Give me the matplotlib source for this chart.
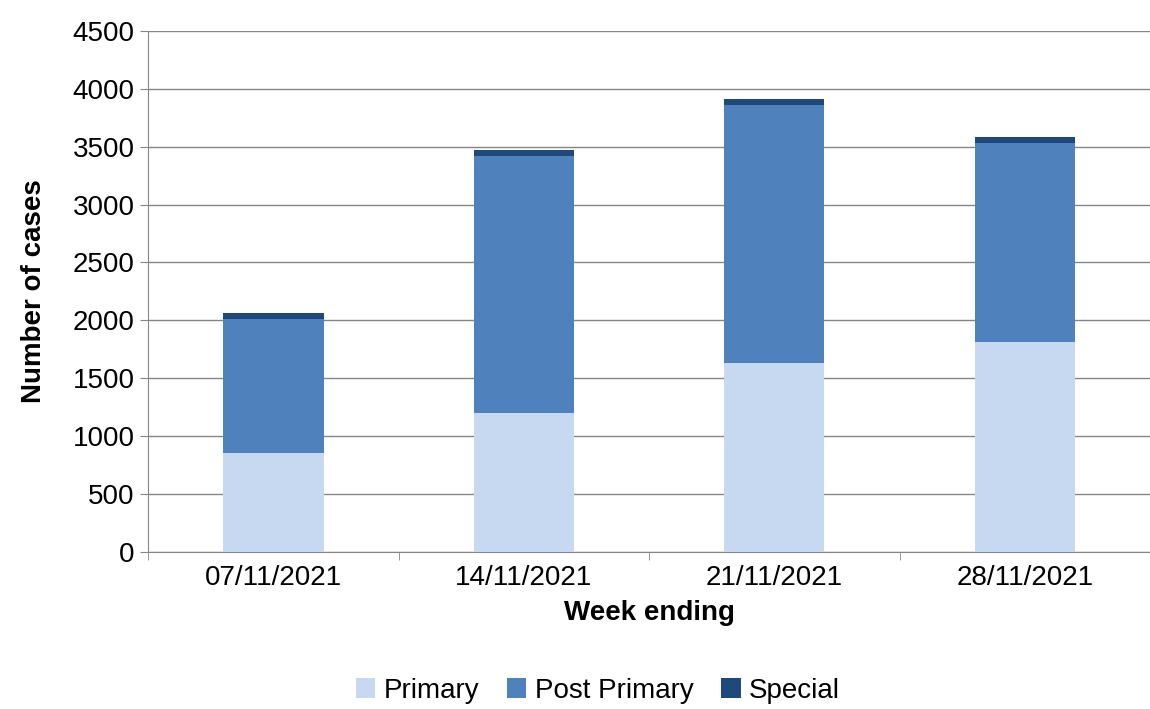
import matplotlib
matplotlib.use('Agg')
import matplotlib.pyplot as plt
import numpy as np

weeks = ['07/11/2021', '14/11/2021', '21/11/2021', '28/11/2021']
primary = [855, 1200, 1635, 1815]
post_primary = [1160, 2220, 2225, 1720]
special = [50, 50, 55, 50]

plt.rcParams['font.family'] = ['Liberation Sans', 'DejaVu Sans']

fig = plt.figure(figsize=(11.5, 7.09), dpi=100)
ax = fig.add_axes([0.129, 0.222, 0.871, 0.734])

x = np.arange(len(weeks))
w = 0.4
p = np.array(primary)
pp = np.array(post_primary)
ax.bar(x, p, w, color='#c6d9f1', label='Primary', zorder=3)
ax.bar(x, pp, w, bottom=p, color='#4f81bd', label='Post Primary', zorder=3)
ax.bar(x, special, w, bottom=p + pp, color='#1f497d', label='Special', zorder=3)

ax.set_xlim(-0.5, len(weeks) - 0.5)
ax.set_ylim(0, 4500)
ax.set_yticks(range(0, 4501, 500))
ax.set_xticks(x)
ax.set_xticklabels(weeks)
ax.grid(axis='y', color='#868686', linewidth=1, zorder=0)
for s in ['top', 'right']:
    ax.spines[s].set_visible(False)
ax.spines['left'].set_color('#868686')
ax.spines['bottom'].set_color('#868686')
ax.set_xticks(np.arange(-0.5, len(weeks)), minor=True)
ax.tick_params(axis='x', which='major', length=0, labelsize=20, pad=10)
ax.tick_params(axis='x', which='minor', length=6, color='#868686')
ax.tick_params(axis='y', labelsize=20, length=6, color='#868686', pad=4)
ax.set_xlabel('Week ending', fontsize=20, fontweight='bold', labelpad=6)
ax.set_ylabel('Number of cases', fontsize=20, fontweight='bold', labelpad=18)

fig.legend(loc='lower center', ncol=3, frameon=False, fontsize=20,
           bbox_to_anchor=(0.52, -0.028), handlelength=0.7, handleheight=0.7,
           columnspacing=1.0, handletextpad=0.3)

fig.savefig('out.png')
